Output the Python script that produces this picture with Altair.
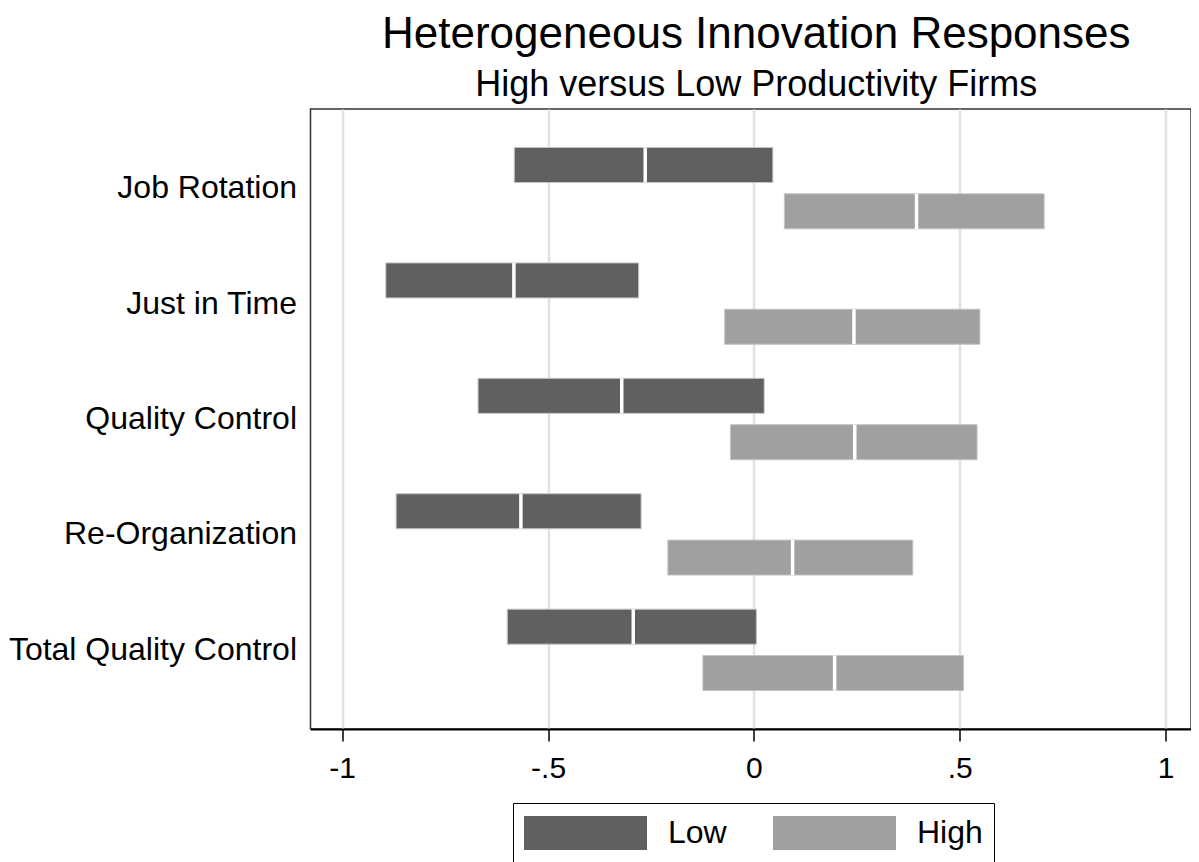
import altair as alt
import pandas as pd

categories = ["Job Rotation", "Just in Time", "Quality Control", "Re-Organization", "Total Quality Control"]
groups = ["Low", "High"]
low_lo = [-0.582, -0.894, -0.670, -0.869, -0.599]
low_med = [-0.264, -0.583, -0.321, -0.566, -0.293]
low_hi = [0.046, -0.280, 0.025, -0.274, 0.006]
high_lo = [0.074, -0.071, -0.057, -0.209, -0.124]
high_med = [0.395, 0.243, 0.245, 0.094, 0.196]
high_hi = [0.705, 0.549, 0.542, 0.386, 0.509]
tick_values = [-1, -0.5, 0, 0.5, 1]
colors = ["#606060", "#a0a0a0"]

rows = []
for i, c in enumerate(categories):
    rows.append(dict(cat=c, group="Low", lo=low_lo[i], med=low_med[i], hi=low_hi[i]))
    rows.append(dict(cat=c, group="High", lo=high_lo[i], med=high_med[i], hi=high_hi[i]))
df = pd.DataFrame(rows)

FONT = "Liberation Sans"

xscale = alt.Scale(domain=[-1.077, 1.0617], nice=False, zero=False)
yscale = alt.Scale(domain=categories, paddingInner=0, paddingOuter=0.186)
oscale = alt.Scale(domain=groups, paddingInner=0.244, paddingOuter=0.368)

base = alt.Chart(df)

boxes = base.mark_bar(stroke="#c4c4c4", strokeWidth=1).encode(
    x=alt.X("lo:Q", scale=xscale, title=None,
            axis=alt.Axis(values=tick_values,
                          labelExpr="replace(toString(datum.value), '0.', '.')")),
    x2="hi:Q",
    y=alt.Y("cat:N", scale=yscale, sort=categories, title=None),
    yOffset=alt.YOffset("group:N", scale=oscale, sort=groups),
    color=alt.Color(
        "group:N",
        scale=alt.Scale(domain=groups, range=colors),
        legend=alt.Legend(
            title=None, orient="none", legendX=202.5, legendY=694,
            direction="horizontal",
            symbolType="M-1,-0.276L1,-0.276L1,0.276L-1,0.276Z",
            symbolSize=15129, symbolStrokeWidth=0, clipHeight=38,
            labelFontSize=32, labelFont=FONT, labelColor="black",
            labelOffset=21, columnPadding=46, padding=11,
            strokeColor="black", labelLimit=0,
        ),
    ),
)

medians = base.mark_tick(color="white", thickness=3.5, size=35, orient="vertical", opacity=1).encode(
    x=alt.X("med:Q", scale=xscale),
    y=alt.Y("cat:N", scale=yscale, sort=categories),
    yOffset=alt.YOffset("group:N", scale=oscale, sort=groups),
)

chart = (
    alt.layer(boxes, medians)
    .properties(
        width=880.5,
        height=620,
        autosize=alt.AutoSizeParams(type="none"),
        padding={"left": 302.5, "top": 101, "right": 0, "bottom": 139},
        title=alt.Title(
            "Heterogeneous Innovation Responses",
            subtitle="High versus Low Productivity Firms",
            font=FONT, fontSize=44, fontWeight="normal", color="black",
            subtitleFont=FONT, subtitleFontSize=36, subtitleColor="black",
            subtitlePadding=11, offset=6, anchor="middle", dx=5.5,
        ),
    )
    .configure_view(stroke="#333333", strokeWidth=1.5)
    .configure_axisX(
        labelFontSize=30, labelFont=FONT, labelColor="black",
        tickColor="black", tickSize=12, tickWidth=1.5, labelPadding=12,
        grid=True, gridColor="#e2e2e2", gridWidth=2.5,
        domainColor="black", domainWidth=2,
    )
    .configure_axisY(
        ticks=False, domain=False, labelFontSize=32, labelFont=FONT,
        labelColor="black", labelPadding=14, grid=False, labelLimit=0,
    )
)

chart.save("out.html", embed_options={"renderer": "svg", "actions": False})
